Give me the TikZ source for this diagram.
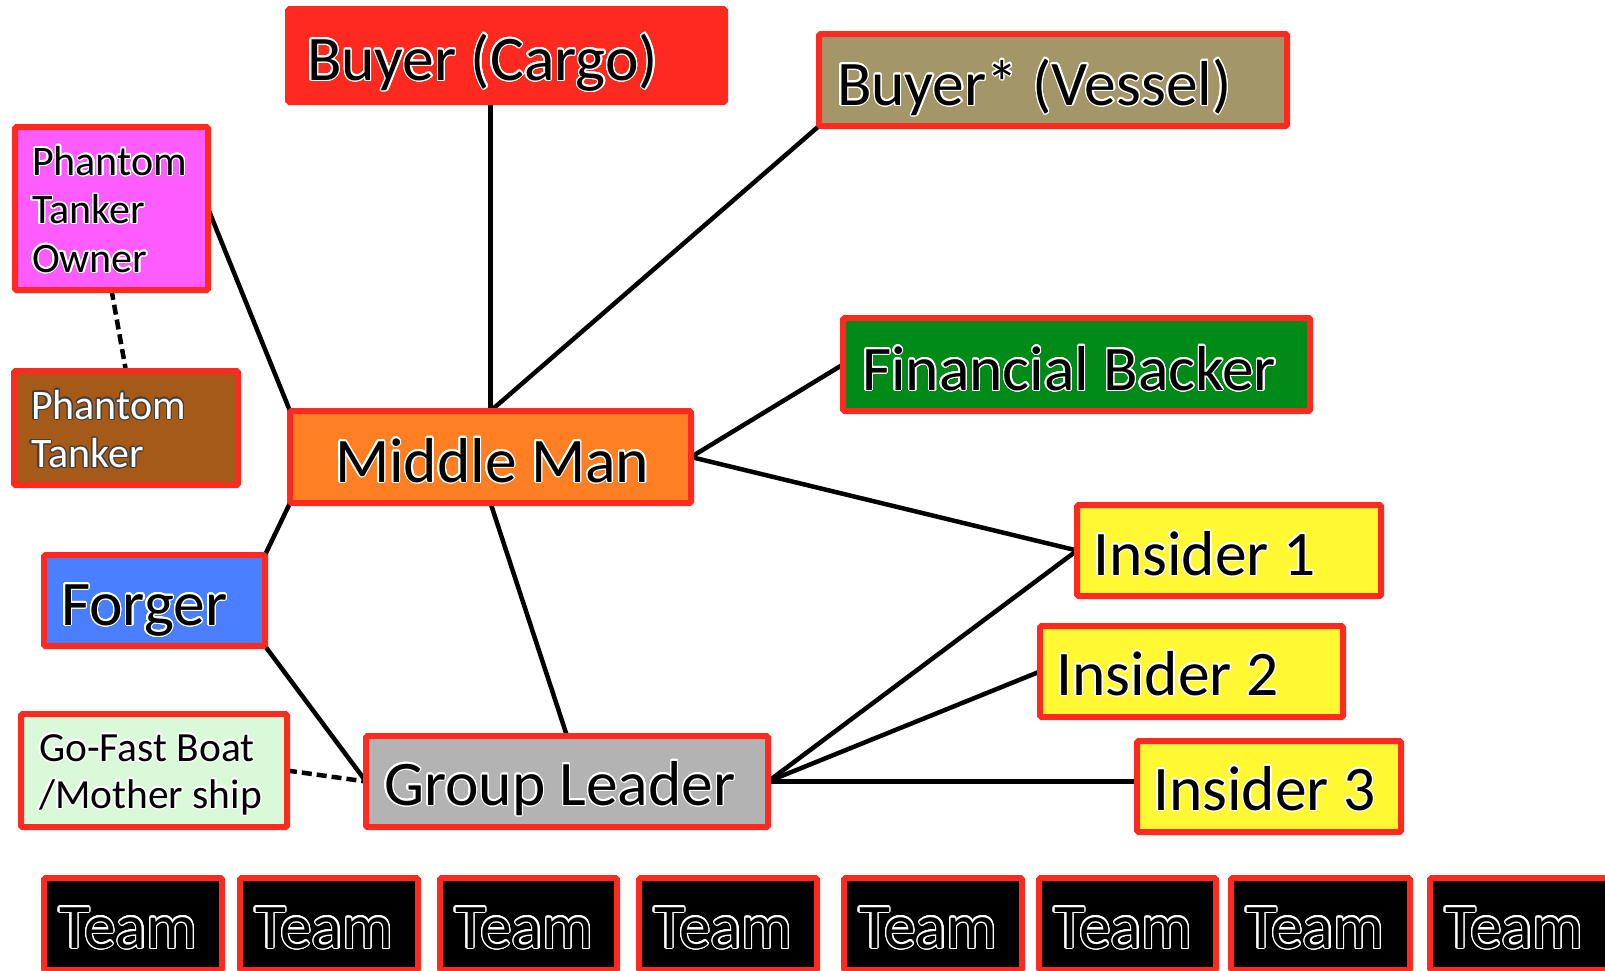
\documentclass[tikz,border=0pt]{standalone}
\usepackage{fontspec}
\setmainfont{Carlito}
\usepackage{contour}
\usetikzlibrary{backgrounds}
\contournumber{24}
\definecolor{bred}{RGB}{255,42,31}
\definecolor{ckhaki}{RGB}{163,151,106}
\definecolor{cmagenta}{RGB}{255,92,255}
\definecolor{cbrown}{RGB}{166,90,26}
\definecolor{corange}{RGB}{255,127,34}
\definecolor{cgreen}{RGB}{0,138,23}
\definecolor{cyellow}{RGB}{255,248,51}
\definecolor{cblue}{RGB}{74,128,255}
\definecolor{cpale}{RGB}{217,249,217}
\definecolor{cgray}{RGB}{179,179,179}
\newcommand\fbig{\fontsize{63.5}{73}\selectfont}
\newcommand\fsmall{\fontsize{42}{48.5}\selectfont}
\newcommand\fgo{\fontsize{41.5}{47}\selectfont}
\newcommand\halo[1]{\contourlength{1.3pt}\contour{white}{#1}}
\newcommand\whalo[1]{\contourlength{1.1pt}\contour{black!75}{\textcolor{white}{#1}}}
\newcommand\mkbox[9]{%
  \pgfmathsetmacro\bxX{#2+3}\pgfmathsetmacro\bxY{#3+3}%
  \pgfmathsetmacro\bxIS{#7-3}\pgfmathsetmacro\bxTW{#4-2*#7}%
  \pgfmathsetmacro\bxTH{#8-3}\pgfmathsetmacro\bxTD{#5-3-#8}%
  \node[box, fill=#6, inner xsep=\bxIS pt, text height=\bxTH pt, text depth=\bxTD pt] (#1) at (\bxX,\bxY)
    {\parbox[t]{\bxTW pt}{\raggedright #9}};}
\tikzset{
  box/.style={draw=bred, line width=6pt, rounded corners=1.5pt, anchor=north west,
    inner ysep=0pt, outer sep=0pt, minimum width=0pt, minimum height=0pt},
  link/.style={draw=black, line width=4.5pt},
  dlink/.style={draw=black, line width=4.5pt, dash pattern=on 10pt off 5pt}
}
\begin{document}
\begin{tikzpicture}[x=1pt,y=-1pt]
\useasboundingbox (0,0) rectangle (1605,970);
\mkbox{bc}{285}{6}{443}{99}{bred}{22}{74}{\fbig\halo{Buyer (Cargo)}}
\mkbox{bv}{816}{31}{474}{98}{ckhaki}{21}{74}{\fbig\halo{Buyer* (Vessel)}}
\mkbox{pto}{12}{124}{199}{169}{cmagenta}{20}{51}{\fsmall\halo{Phantom}\\\halo{Tanker}\\\halo{Owner}}
\mkbox{pt}{11}{368}{230}{120}{cbrown}{20}{51}{\fsmall\whalo{Phantom}\\\whalo{Tanker}}
\mkbox{mm}{287}{408}{407}{98}{corange}{48}{74}{\fbig\hbox to\hsize{\hfil\halo{Middle Man}\hfil}}
\mkbox{fb}{840}{315}{473}{99}{cgreen}{22}{75}{\fbig\halo{Financial Backer}}
\mkbox{ia}{1074}{502}{310}{97}{cyellow}{19}{73}{\fbig\halo{Insider 1}}
\mkbox{ib}{1037}{623}{309}{97}{cyellow}{19}{72}{\fbig\halo{Insider 2}}
\mkbox{ic}{1134}{738}{270}{97}{cyellow}{19}{72}{\fbig\halo{Insider 3}}
\mkbox{fo}{41}{552}{227}{97}{cblue}{20}{73}{\fbig\halo{Forger}}
\mkbox{gf}{18}{711}{272}{119}{cpale}{21}{50}{\fgo\halo{Go-Fast Boat}\\\halo{/Mother ship}}
\mkbox{gl}{363}{733}{408}{97}{cgray}{21}{72}{\fbig\halo{Group Leader}}
\mkbox{t1}{41}{875}{184}{98}{black}{18}{73}{\fbig\halo{Team}}
\mkbox{t2}{237}{875}{184}{98}{black}{18}{73}{\fbig\halo{Team}}
\mkbox{t3}{437}{875}{183}{98}{black}{18}{73}{\fbig\halo{Team}}
\mkbox{t4}{636}{875}{184}{98}{black}{18}{73}{\fbig\halo{Team}}
\mkbox{t5}{841}{875}{184}{98}{black}{18}{73}{\fbig\halo{Team}}
\mkbox{t6}{1036}{875}{183}{98}{black}{18}{73}{\fbig\halo{Team}}
\mkbox{t7}{1228}{875}{185}{98}{black}{18}{73}{\fbig\halo{Team}}
\mkbox{t8}{1427}{875}{190}{98}{black}{18}{73}{\fbig\halo{Team}}
\begin{scope}[on background layer]
\draw[link] (bc.south -| mm.north) -- (mm.north);
\draw[link] (bv.south west) -- (mm.north);
\draw[link] (pto.east) -- (mm.north west);
\draw[dlink] (pto.south) -- (pt.north);
\draw[link] (fb.west) -- (mm.east);
\draw[link] (mm.east) -- (ia.west);
\draw[link] (mm.south west) -- (fo.north east);
\draw[link] (mm.south) -- (gl.north);
\draw[link] (fo.south east) -- (gl.west);
\draw[dlink] (gf.east) -- (gl.west);
\draw[link] (gl.east) -- (ia.west);
\draw[link] (gl.east) -- (ib.west);
\draw[link] (gl.east) -- (gl.east -| ic.west);
\end{scope}
\end{tikzpicture}
\end{document}
